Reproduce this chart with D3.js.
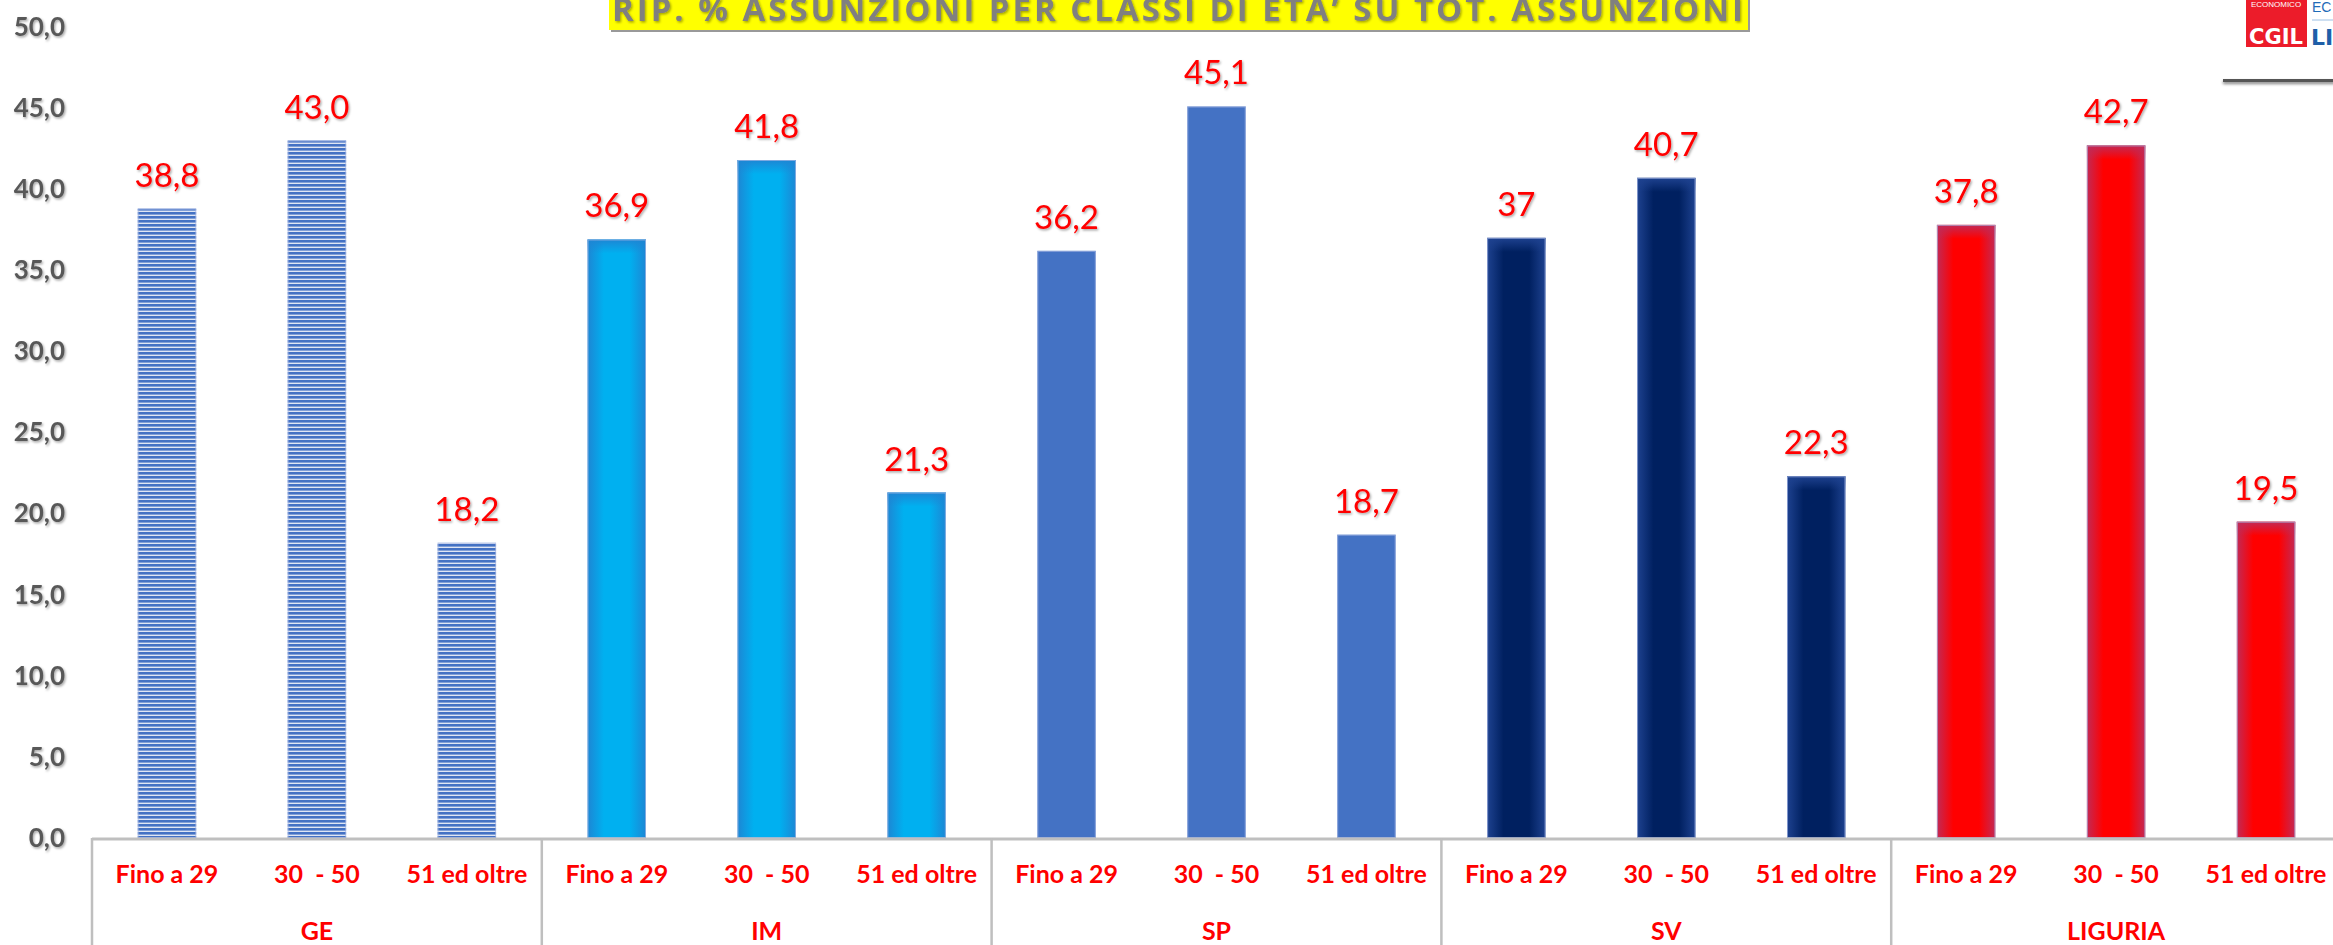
<!DOCTYPE html>
<html>
<head>
<meta charset="utf-8">
<script src="https://cdn.jsdelivr.net/npm/d3@7"></script>
<style>
  html, body { margin: 0; padding: 0; background: #fff; }
  svg { display: block; }
</style>
</head>
<body>
<div id="chart"></div>
<script>
// data
var groups = ["GE", "IM", "SP", "SV", "LIGURIA"]
var ages = ["Fino a 29", "30  - 50", "51 ed oltre"]
var geValues = [38.8, 43.0, 18.2]
var imValues = [36.9, 41.8, 21.3]
var spValues = [36.2, 45.1, 18.7]
var svValues = [37.0, 40.7, 22.3]
var liguriaValues = [37.8, 42.7, 19.5]
// shown labels (SV first bar is written "37" in the original)
var barLabels = ["38,8", "43,0", "18,2", "36,9", "41,8", "21,3", "36,2", "45,1", "18,7",
                 "37", "40,7", "22,3", "37,8", "42,7", "19,5"]
var yTicks = [0, 5, 10, 15, 20, 25, 30, 35, 40, 45, 50]
var title = "RIP. % ASSUNZIONI PER CLASSI DI ETA\u2019 SU TOT. ASSUNZIONI"

var screen = {width: 2333, height: 945}
var margin = {top: 27, left: 92, bottom: 107}

var series = [geValues, imValues, spValues, svValues, liguriaValues]
var data = []
groups.forEach(function(g, gi) {
  ages.forEach(function(a, ai) {
    data.push({group: g, age: a, value: series[gi][ai], label: barLabels[gi * 3 + ai]})
  })
})

// scales
var x0 = d3.scaleBand()
    .domain(groups)
    .range([margin.left, margin.left + 5 * 449.8])
var x1 = d3.scaleBand()
    .domain(ages)
    .range([0, x0.bandwidth()])
    .paddingInner(0.61)
    .paddingOuter(0.305)
var y = d3.scaleLinear()
    .domain([0, 50])
    .range([screen.height - margin.bottom + 0, margin.top])

var it = d3.formatLocale({decimal: ",", thousands: ".", grouping: [3], currency: ["€", ""]})
var fmt = it.format(".1f")

var svg = d3.select("#chart").append("svg")
    .attr("width", screen.width)
    .attr("height", screen.height)

var defs = svg.append("defs")

// text shadow
var sh = defs.append("filter").attr("id", "tshadow")
    .attr("x", "-10%").attr("y", "-10%").attr("width", "130%").attr("height", "140%")
sh.append("feDropShadow").attr("dx", 1.2).attr("dy", 1.5).attr("stdDeviation", 0.9)
  .attr("flood-color", "#000").attr("flood-opacity", 0.35)

var lineSh = defs.append("filter").attr("id", "lshadow")
    .attr("x", "-5%").attr("y", "-200%").attr("width", "110%").attr("height", "500%")
lineSh.append("feDropShadow").attr("dx", 0).attr("dy", 2).attr("stdDeviation", 1.5)
  .attr("flood-color", "#000").attr("flood-opacity", 0.5)

// GE striped pattern
var pat = defs.append("pattern").attr("id", "stripes")
    .attr("patternUnits", "userSpaceOnUse")
    .attr("width", 8).attr("height", 4)
pat.append("rect").attr("width", 8).attr("height", 4).attr("fill", "#dfe6f4")
pat.append("rect").attr("width", 8).attr("height", 2.6).attr("fill", "#4472c4")

// glow-like gradients for the solid bars
var colors = {
  IM: {center: "#00b0f0", edge: "#1d86d4"},
  SP: {center: "#4472c4", edge: "#4472c4"},
  SV: {center: "#002060", edge: "#1e4290"},
  LIGURIA: {center: "#ff0000", edge: "#c22a56"}
}
Object.keys(colors).forEach(function(k) {
  var c = colors[k]
  var g = defs.append("linearGradient").attr("id", "grad" + k)
      .attr("x1", 0).attr("x2", 1).attr("y1", 0).attr("y2", 0)
  g.append("stop").attr("offset", "0%").attr("stop-color", c.edge)
  g.append("stop").attr("offset", "28%").attr("stop-color", c.center)
  g.append("stop").attr("offset", "72%").attr("stop-color", c.center)
  g.append("stop").attr("offset", "100%").attr("stop-color", c.edge)
  var t = defs.append("linearGradient").attr("id", "top" + k)
      .attr("x1", 0).attr("x2", 0).attr("y1", 0).attr("y2", 1)
  t.append("stop").attr("offset", "0%").attr("stop-color", c.edge).attr("stop-opacity", 1)
  t.append("stop").attr("offset", "100%").attr("stop-color", c.edge).attr("stop-opacity", 0)
})

function barX(d) { return x0(d.group) + x1(d.age) }

// bars
var bars = svg.append("g").attr("class", "bars")
bars.selectAll("rect.bar")
    .data(data)
    .enter()
    .append("rect")
    .attr("class", "bar")
    .attr("x", barX)
    .attr("y", function(d) { return y(d.value) })
    .attr("width", x1.bandwidth())
    .attr("height", function(d) { return y(0) - y(d.value) })
    .attr("fill", function(d) { return d.group == "GE" ? "url(#stripes)" : "url(#grad" + d.group + ")" })

// soft top edge
bars.selectAll("rect.topglow")
    .data(data.filter(function(d) { return d.group != "GE" && d.group != "SP" }))
    .enter()
    .append("rect")
    .attr("class", "topglow")
    .attr("x", barX)
    .attr("y", function(d) { return y(d.value) })
    .attr("width", x1.bandwidth())
    .attr("height", 14)
    .attr("fill", function(d) { return "url(#top" + d.group + ")" })

// thin light outline
bars.selectAll("rect.outline")
    .data(data)
    .enter()
    .append("rect")
    .attr("class", "outline")
    .attr("x", function(d) { return barX(d) + 0.5 })
    .attr("y", function(d) { return y(d.value) + 0.5 })
    .attr("width", x1.bandwidth() - 1)
    .attr("height", function(d) { return y(0) - y(d.value) - 1 })
    .attr("fill", "none")
    .attr("stroke", "#a8b8e4")
    .attr("stroke-opacity", 0.7)
    .attr("stroke-width", 1)

// value labels
svg.append("g").selectAll("text")
    .data(data)
    .enter()
    .append("text")
    .attr("x", function(d) { return barX(d) + x1.bandwidth() / 2 })
    .attr("y", function(d) { return y(d.value) - 22 })
    .attr("text-anchor", "middle")
    .attr("filter", "url(#tshadow)")
    .style("font-family", "Lato, 'Open Sans', sans-serif")
    .style("font-size", "33px")
    .style("fill", "#ff0000")
    .text(function(d) { return d.label })

// y axis
var yAxis = d3.axisLeft(y).tickValues(yTicks).tickSize(0).tickPadding(27).tickFormat(fmt)
var ya = svg.append("g")
    .attr("transform", "translate(" + margin.left + ",0)")
    .call(yAxis)
ya.select(".domain").remove()
ya.selectAll("text")
    .attr("filter", "url(#tshadow)")
    .style("font-family", "Lato, 'Open Sans', sans-serif")
    .style("font-weight", "bold")
    .style("font-size", "26px")
    .style("fill", "#595959")

// x axis: baseline, group separators and two label rows
var axisG = svg.append("g")
axisG.append("line")
    .attr("x1", margin.left).attr("x2", screen.width)
    .attr("y1", y(0) + 1).attr("y2", y(0) + 1)
    .attr("stroke", "#bfbfbf").attr("stroke-width", 3)

var seps = groups.map(function(g) { return x0(g) })
axisG.selectAll("line.sep")
    .data(seps)
    .enter()
    .append("line")
    .attr("class", "sep")
    .attr("x1", function(d) { return d }).attr("x2", function(d) { return d })
    .attr("y1", y(0)).attr("y2", screen.height)
    .attr("stroke", "#bfbfbf").attr("stroke-width", 2.5)

axisG.selectAll("text.inner")
    .data(data)
    .enter()
    .append("text")
    .attr("class", "inner")
    .attr("x", function(d) { return barX(d) + x1.bandwidth() / 2 })
    .attr("y", 883)
    .attr("text-anchor", "middle")
    .style("white-space", "pre")
    .style("font-family", "Lato, 'Open Sans', sans-serif")
    .style("font-weight", "bold")
    .style("font-size", "25px")
    .style("fill", "#ff0000")
    .text(function(d) { return d.age })

axisG.selectAll("text.outer")
    .data(groups)
    .enter()
    .append("text")
    .attr("class", "outer")
    .attr("x", function(d) { return x0(d) + x0.bandwidth() / 2 })
    .attr("y", 940)
    .attr("text-anchor", "middle")
    .style("font-family", "Lato, 'Open Sans', sans-serif")
    .style("font-weight", "bold")
    .style("font-size", "25px")
    .style("fill", "#ff0000")
    .text(function(d) { return d })

// title box
var tg = svg.append("g")
tg.append("rect")
    .attr("x", 611).attr("y", -5).attr("width", 1139).attr("height", 37)
    .attr("fill", "#999")
tg.append("rect")
    .attr("x", 609).attr("y", -5).attr("width", 1139).attr("height", 35)
    .attr("fill", "#ffff00")
tg.append("text")
    .attr("x", 612).attr("y", 21)
    .attr("textLength", 1131)
    .attr("lengthAdjust", "spacing")
    .attr("filter", "url(#tshadow)")
    .style("font-family", "'Open Sans', sans-serif")
    .style("font-weight", "bold")
    .style("font-size", "33px")
    .style("fill", "#808080")
    .text(title)

// logo
var logo = svg.append("g")
logo.append("rect")
    .attr("x", 2246).attr("y", 0).attr("width", 61).attr("height", 47)
    .attr("fill", "#ec1c2a")
logo.append("text")
    .attr("x", 2276).attr("y", 7).attr("text-anchor", "middle")
    .style("font-family", "'Liberation Sans', sans-serif")
    .style("font-size", "8px").style("fill", "#fff")
    .text("ECONOMICO")
logo.append("text")
    .attr("x", 2276).attr("y", 44).attr("text-anchor", "middle")
    .attr("textLength", 54).attr("lengthAdjust", "spacingAndGlyphs")
    .style("font-family", "'DejaVu Sans', sans-serif")
    .style("font-weight", "bold")
    .style("font-size", "22px").style("fill", "#fff")
    .text("CGIL")
logo.append("text")
    .attr("x", 2312).attr("y", 12)
    .style("font-family", "'Liberation Sans', sans-serif")
    .style("font-size", "14px").style("fill", "#1f6cb8")
    .text("EC")
logo.append("line")
    .attr("x1", 2312).attr("x2", 2333).attr("y1", 20).attr("y2", 20)
    .attr("stroke", "#9cc0e4").attr("stroke-width", 1)
logo.append("text")
    .attr("x", 2311).attr("y", 45)
    .style("font-family", "'DejaVu Sans', sans-serif")
    .style("font-weight", "bold")
    .style("font-size", "22px").style("fill", "#1f5fa8")
    .text("LI")
logo.append("rect")
    .attr("x", 2223).attr("y", 79).attr("width", 112).attr("height", 3)
    .attr("fill", "#555")
    .attr("filter", "url(#lshadow)")
</script>
</body>
</html>
